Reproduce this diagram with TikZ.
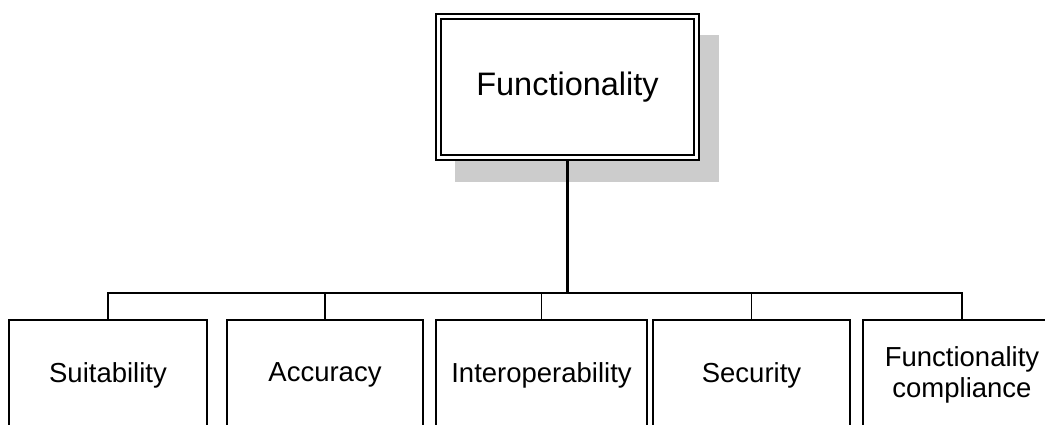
\documentclass[tikz,border=0pt]{standalone}
\usepackage{fontspec}
\setmainfont{Liberation Sans}
\definecolor{shadowgray}{RGB}{204,204,204}
\begin{document}
\begin{tikzpicture}[x=1pt,y=1pt,
  rootbox/.style={draw, double, double distance=3.2pt, line width=1.7pt, fill=white,
    minimum width=258pt, minimum height=141pt, inner sep=0pt, outer sep=3.3pt,
    font=\fontsize{32.5}{39}\selectfont},
  leafbox/.style={draw, line width=1.8pt, fill=white, minimum height=110pt,
    inner sep=0pt, align=center, font=\fontsize{27.5}{31}\selectfont},
  link/.style={line width=1.7pt},
  trunk/.style={line width=2.6pt}]
\useasboundingbox (0,0) rectangle (1045,-425);
\clip (0,0) rectangle (1045,-425);

% shadow behind the root box
\fill[shadowgray] (455,-35) rectangle (719,-182);

% root
\node[rootbox] (root) at (567.5,-87) {Functionality};

% sub-characteristics
\node[leafbox, minimum width=197.4pt] (s1) at (108,-375) {Suitability};
\node[leafbox, minimum width=196.6pt] (s2) at (325,-375) {Accuracy};
\node[leafbox, minimum width=210.7pt] (s3) at (541.5,-375) {Interoperability};
\node[leafbox, minimum width=197.3pt] (s4) at (751.5,-375) {Security};
\node[leafbox, minimum width=198.6pt] (s5) at (962,-375) {Functionality\\compliance};

% connectors
\coordinate (bus) at (567.5,-292.7);
\draw[trunk] (root.south) -- (bus);
\draw[link] (s1.north) |- (bus) -| (s5.north);
\draw[link] (s2.north) -- (s2.north |- bus);
\draw[link] (s3.north) -- (s3.north |- bus);
\draw[link] (s4.north) -- (s4.north |- bus);
\end{tikzpicture}
\end{document}
